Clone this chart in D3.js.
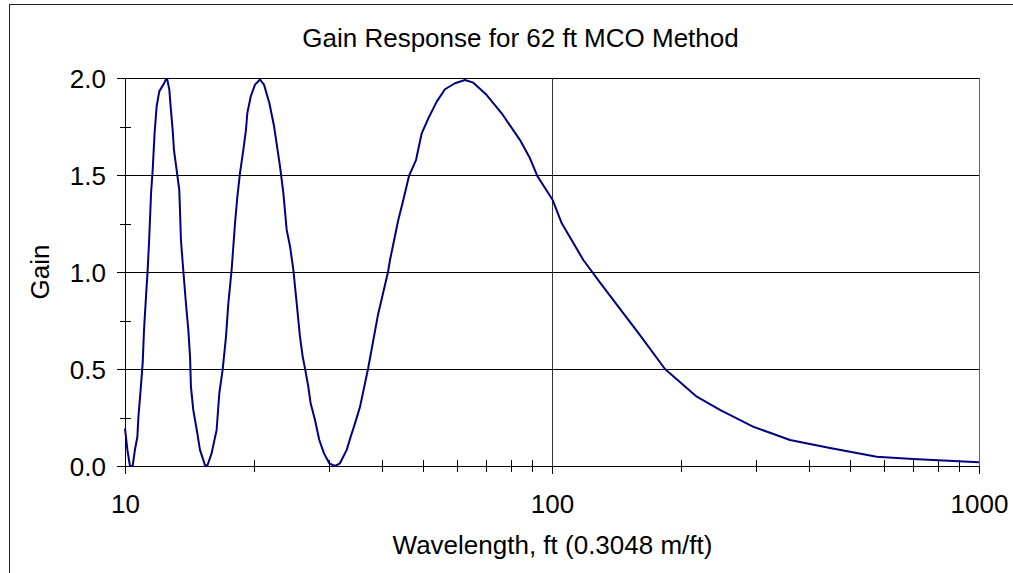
<!DOCTYPE html>
<html>
<head>
<meta charset="utf-8">
<script src="https://cdn.jsdelivr.net/npm/d3@7"></script>
<style>
  body { margin: 0; background: #fff; }
  text { font-family: "Liberation Sans", Arial, sans-serif; fill: #000; }
</style>
</head>
<body>
<div id="chart"></div>
<script>
// Gain response, 62 ft MCO method
var wavelength = [10.00, 10.13, 10.27, 10.42, 10.55, 10.69, 10.75, 10.88, 11.00, 11.08,
  11.20, 11.30, 11.40, 11.51, 11.61, 11.73, 11.86, 12.03, 12.30, 12.47,
  12.56, 12.70, 12.79, 12.93, 13.02, 13.21, 13.40, 13.45, 13.52, 13.69,
  13.89, 14.07, 14.20, 14.27, 14.45, 14.77, 14.98, 15.39, 15.58, 15.95,
  16.39, 16.63, 16.93, 17.24, 17.46, 17.77, 18.10, 18.33, 18.59, 18.93,
  19.20, 19.34, 19.70, 20.16, 20.71, 21.16, 21.78, 22.34, 23.07, 23.49,
  23.91, 24.35, 24.79, 25.24, 25.69, 26.07, 26.44, 26.87, 27.21, 27.86,
  28.51, 29.24, 30.09, 31.03, 31.88, 33.05, 33.77, 34.57, 35.52, 37.08,
  39.13, 41.30, 41.75, 43.65, 44.85, 46.25, 48.03, 49.53, 51.33, 53.71,
  56.15, 59.27, 62.55, 65.42, 70.32, 76.24, 84.16, 88.81, 92.37, 100.4,
  105.4, 118.4, 129.6, 144.3, 160.7, 183.9, 218.3, 247.4, 295.6, 360.9,
  447.8, 576.1, 700.2, 1000];
var gain = [0.194, 0.083, 0.000, 0.000, 0.083, 0.151, 0.254, 0.392, 0.530, 0.702,
  0.874, 1.011, 1.183, 1.407, 1.527, 1.716, 1.854, 1.931, 1.966, 1.992,
  1.992, 1.940, 1.854, 1.733, 1.630, 1.527, 1.424, 1.321, 1.166, 1.011,
  0.839, 0.702, 0.564, 0.409, 0.289, 0.169, 0.083, 0.005, 0.000, 0.065,
  0.186, 0.375, 0.495, 0.667, 0.839, 1.011, 1.252, 1.389, 1.510, 1.630,
  1.733, 1.819, 1.905, 1.966, 1.992, 1.966, 1.871, 1.751, 1.544, 1.407,
  1.218, 1.132, 1.011, 0.839, 0.667, 0.564, 0.495, 0.409, 0.323, 0.237,
  0.134, 0.065, 0.014, 0.000, 0.014, 0.083, 0.151, 0.220, 0.306, 0.500,
  0.780, 1.000, 1.062, 1.268, 1.371, 1.495, 1.577, 1.715, 1.792, 1.878,
  1.942, 1.973, 1.990, 1.976, 1.912, 1.818, 1.680, 1.586, 1.495, 1.371,
  1.251, 1.062, 0.945, 0.810, 0.675, 0.500, 0.357, 0.289, 0.203, 0.134,
  0.093, 0.048, 0.036, 0.019];

var xMajor = [10, 100, 1000];
var xMinor = [20, 30, 40, 50, 60, 70, 80, 90, 200, 300, 400, 500, 600, 700, 800, 900];
var yMajor = [0, 0.5, 1.0, 1.5, 2.0];
var yMinor = [0.25, 0.75, 1.25, 1.75];

var titleText = "Gain Response for 62 ft MCO Method";
var xLabel = "Wavelength, ft (0.3048 m/ft)";
var yLabel = "Gain";

function createGainChart(){
  var W = 1013, H = 573;
  var margin = {top: 78, right: 34, bottom: 107, left: 125};
  var width = W - margin.left - margin.right,
      height = H - margin.top - margin.bottom;

  var svg = d3.select("#chart").append("svg")
      .attr("width", W)
      .attr("height", H);

  // outer chart border (runs off the right and bottom edge)
  svg.append("rect")
      .attr("x", 9.5).attr("y", 4.5)
      .attr("width", 1010).attr("height", 600)
      .attr("fill", "none")
      .attr("stroke", "#222");

  var g = svg.append("g").attr("transform", "translate(" + margin.left + "," + margin.top + ")");

  var x = d3.scaleLog().domain([10, 1000]).range([0, width]);
  var y = d3.scaleLinear().domain([0, 2]).range([height, 0]);

  // gridlines
  g.append("g").selectAll("line")
    .data(yMajor.slice(1))
    .enter().append("line")
      .attr("x1", 0).attr("x2", width)
      .attr("y1", function(d) { return Math.round(y(d)) + 0.5; })
      .attr("y2", function(d) { return Math.round(y(d)) + 0.5; })
      .attr("stroke", "#000");
  g.append("line")
      .attr("x1", Math.round(x(100)) + 0.5).attr("x2", Math.round(x(100)) + 0.5)
      .attr("y1", 0).attr("y2", height)
      .attr("stroke", "#333");
  g.append("line")
      .attr("x1", width + 0.5).attr("x2", width + 0.5)
      .attr("y1", 0).attr("y2", height)
      .attr("stroke", "#666");

  // axes
  var xAxis = g.append("g")
      .attr("transform", "translate(0," + height + ")")
      .call(d3.axisBottom(x).tickValues(xMajor).tickSize(8).tickFormat(d3.format("d")));
  xAxis.selectAll("text")
      .attr("font-size", 26).attr("dy", null).attr("y", 47)
      .attr("fill", "#000");
  xAxis.append("g").selectAll("line")
    .data(xMinor)
    .enter().append("line")
      .attr("x1", function(d) { return Math.round(x(d)) + 0.5; })
      .attr("x2", function(d) { return Math.round(x(d)) + 0.5; })
      .attr("y1", -6).attr("y2", 6)
      .attr("stroke", "#000");

  var yAxis = g.append("g")
      .call(d3.axisLeft(y).tickValues(yMajor).tickSize(8).tickFormat(d3.format(".1f")));
  yAxis.selectAll("text")
      .attr("font-size", 26).attr("dy", null).attr("x", -19).attr("y", 9.5)
      .attr("fill", "#000");
  yAxis.append("g").selectAll("line")
    .data(yMinor)
    .enter().append("line")
      .attr("y1", function(d) { return Math.round(y(d)) + 0.5; })
      .attr("y2", function(d) { return Math.round(y(d)) + 0.5; })
      .attr("x1", -5).attr("x2", 6)
      .attr("stroke", "#000");

  svg.selectAll(".domain").attr("stroke", "#000");
  svg.selectAll(".tick line").attr("stroke", "#000");

  // curve
  var pts = wavelength.map(function(d, i) { return [d, gain[i]]; });
  var line = d3.line()
      .x(function(d) { return x(d[0]); })
      .y(function(d) { return y(d[1]); });
  g.append("path")
      .datum(pts)
      .attr("d", line)
      .attr("fill", "none")
      .attr("stroke", "#000080")
      .attr("stroke-width", 2)
      .attr("stroke-linejoin", "round");

  // titles
  svg.append("text")
      .attr("x", 520.5).attr("y", 47)
      .attr("text-anchor", "middle")
      .attr("font-size", 26)
      .text(titleText);
  svg.append("text")
      .attr("x", 552.5).attr("y", 554)
      .attr("text-anchor", "middle")
      .attr("font-size", 26)
      .text(xLabel);
  svg.append("text")
      .attr("transform", "translate(49,272) rotate(-90)")
      .attr("text-anchor", "middle")
      .attr("font-size", 26)
      .text(yLabel);
}

createGainChart();
</script>
</body>
</html>
